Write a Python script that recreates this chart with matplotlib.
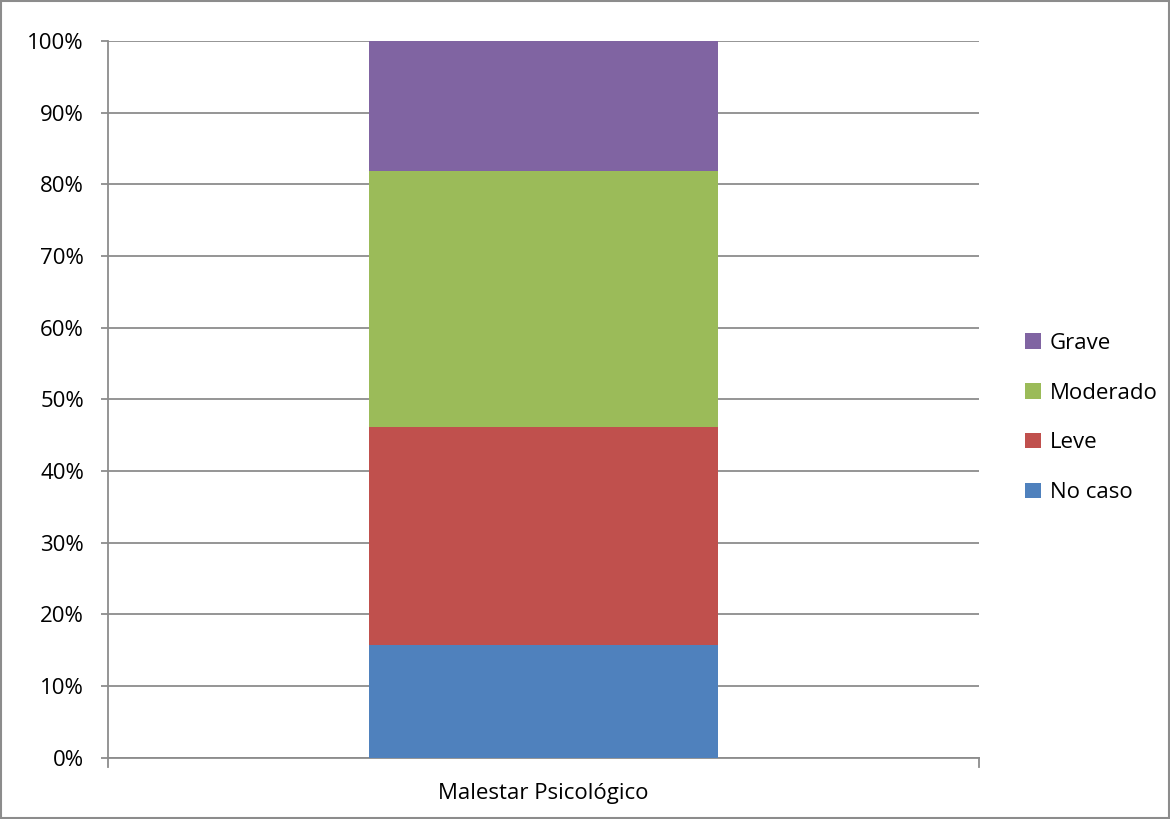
import matplotlib.pyplot as plt
from matplotlib.patches import Rectangle

plt.rcParams['font.family'] = ['Open Sans', 'DejaVu Sans']

categoria = ['Malestar Psicológico']
niveles = ['No caso', 'Leve', 'Moderado', 'Grave']
valores = [15.7, 30.4, 35.8, 18.1]
colores = ['#4F81BD', '#C0504D', '#9BBB59', '#8064A2']

fig = plt.figure(figsize=(11.7, 8.19), dpi=100)
ax = fig.add_axes([0.092, 0.0748, 0.745, 0.8752])

base = 0
for nombre, v, c in zip(niveles, valores, colores):
    ax.bar(categoria, [v], bottom=base, width=0.4, color=c, label=nombre, zorder=3)
    base += v

ax.set_xlim(-0.5, 0.5)
ax.set_ylim(0, 100)
ax.set_yticks(range(0, 101, 10))
ax.set_yticklabels([str(t) + '%' for t in range(0, 101, 10)], fontsize=16)
ax.yaxis.grid(True, color='#8c8c8c', linewidth=1.3, zorder=0)

ax.set_xticks([0])
ax.set_xticklabels(categoria, fontsize=16)
ax.tick_params(axis='x', length=0, pad=18)
ax.tick_params(axis='y', length=5, color='#8c8c8c', width=1.3, pad=12)
# marcas en los extremos del eje x
for xx in [-0.5, 0.5]:
    ax.plot([xx, xx], [0, -1.25], color='#8c8c8c', linewidth=1.3, clip_on=False, zorder=4)

for s in ['top', 'right']:
    ax.spines[s].set_visible(False)
for s in ['left', 'bottom']:
    ax.spines[s].set_color('#8c8c8c')
    ax.spines[s].set_linewidth(1.3)

h, l = ax.get_legend_handles_labels()
ax.legend(h[::-1], l[::-1], loc='center left', bbox_to_anchor=(1.03, 0.474),
          frameon=False, fontsize=16, handlelength=0.7, handleheight=0.7,
          handletextpad=0.4, labelspacing=1.3)

fig.patches.append(Rectangle((0.001, 0.001), 0.998, 0.998, transform=fig.transFigure,
                             fill=False, edgecolor='#8c8c8c', linewidth=1.5))

plt.savefig('out.png', dpi=100)
